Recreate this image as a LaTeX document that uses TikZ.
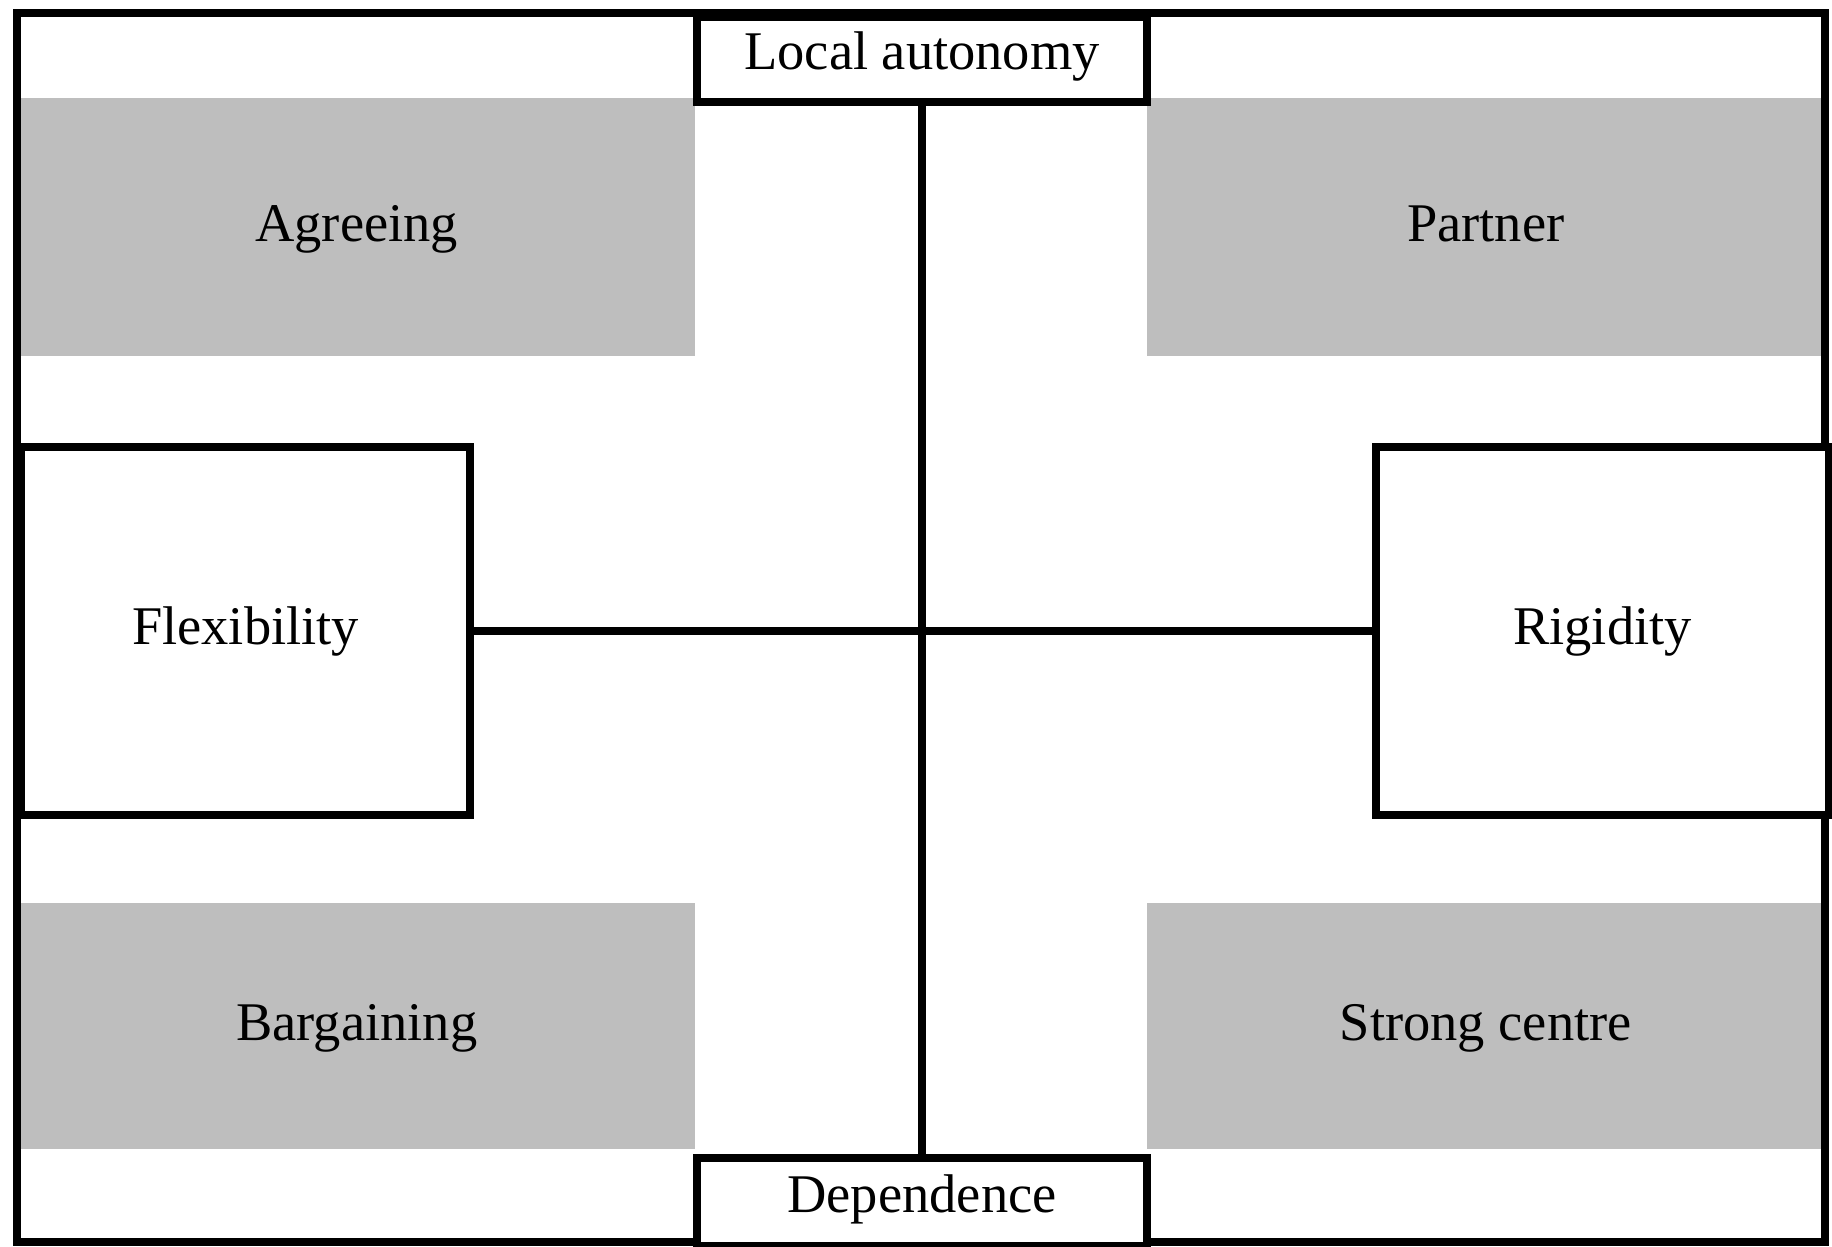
\documentclass[tikz,border=0pt]{standalone}
\usepackage{fontspec}
\setmainfont{Liberation Serif}
\definecolor{boxgray}{RGB}{190,190,190}
\begin{document}
\begin{tikzpicture}[%
% common options for the shaded fields:
field/.style = {rectangle, fill=boxgray, anchor=north west, inner sep=0,
            text height=1.05em, text depth=0.22em,
            font=\fontsize{15.5}{18}\selectfont},
% common options for the framed boxes:
pole/.style = {rectangle, draw, fill=white, line width=2.3pt, anchor=north west,
            inner sep=0, text height=0.8em, text depth=0.22em,
            font=\fontsize{15.5}{18}\selectfont},
axis/.style = {line width=2.3pt}]
\useasboundingbox (0,0) rectangle (18.32,-12.47);
\node[field,minimum width=6.76cm,minimum height=2.58cm] (TL) at (0.18,-0.97) {Agreeing};
\node[field,minimum width=6.78cm,minimum height=2.58cm] (TR) at (11.46,-0.97) {Partner};
\node[field,minimum width=6.76cm,minimum height=2.46cm] (BL) at (0.18,-9.02) {Bargaining};
\node[field,minimum width=6.78cm,minimum height=2.46cm] (BR) at (11.46,-9.02) {Strong centre};
\draw[axis] (0.17,-0.13) rectangle (18.25,-12.42);
\node[pole,minimum width=4.50cm,minimum height=0.85cm] (LA) at (6.93,-0.13) {Local autonomy};
\node[pole,minimum width=4.50cm,minimum height=0.88cm] (DP) at (6.93,-11.54) {Dependence};
\node[pole,minimum width=4.49cm,minimum height=3.68cm,text height=1.0em] (FX) at (0.17,-4.43) {Flexibility};
\node[pole,minimum width=4.53cm,minimum height=3.68cm,text height=1.0em] (RG) at (13.72,-4.43) {Rigidity};
\draw[axis] (LA.south) to (DP.north);
\draw[axis] (FX.east) to (RG.west);
\end{tikzpicture}
\end{document}
